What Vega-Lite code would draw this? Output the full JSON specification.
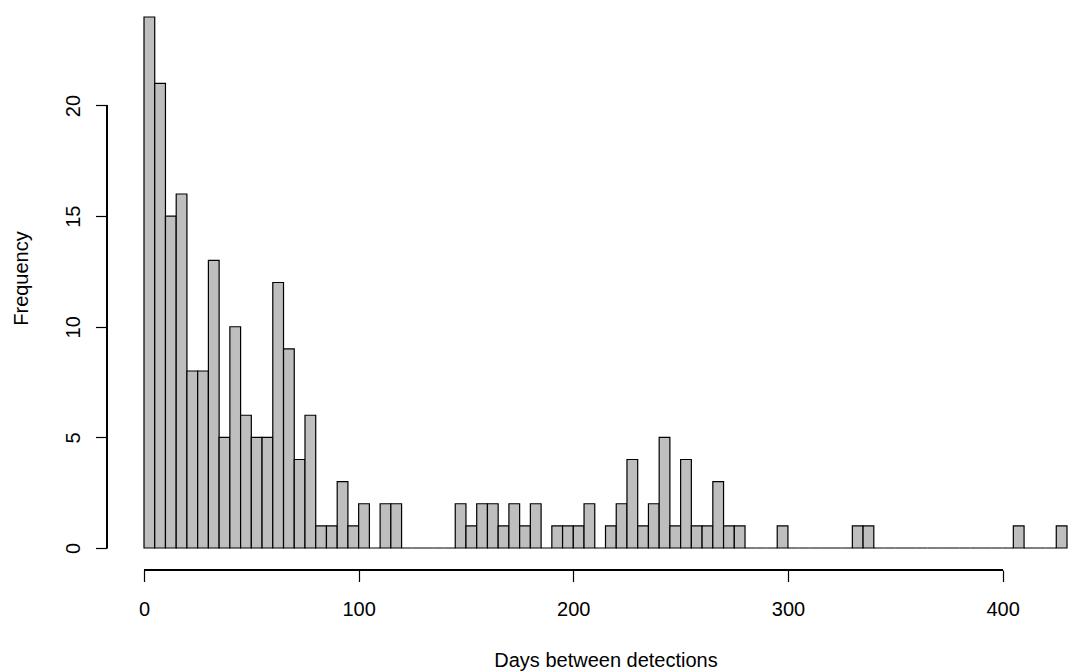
{
  "$schema": "https://vega.github.io/schema/vega-lite/v6.json",
  "width": 923,
  "height": 531,
  "autosize": "none",
  "padding": {"left": 144, "top": 17, "right": 1, "bottom": 124},
  "background": "white",
  "config": {
    "view": {"stroke": null},
    "font": "Liberation Sans"
  },
  "data": {
    "values": [
      {"start": 0, "end": 5, "count": 24},
      {"start": 5, "end": 10, "count": 21},
      {"start": 10, "end": 15, "count": 15},
      {"start": 15, "end": 20, "count": 16},
      {"start": 20, "end": 25, "count": 8},
      {"start": 25, "end": 30, "count": 8},
      {"start": 30, "end": 35, "count": 13},
      {"start": 35, "end": 40, "count": 5},
      {"start": 40, "end": 45, "count": 10},
      {"start": 45, "end": 50, "count": 6},
      {"start": 50, "end": 55, "count": 5},
      {"start": 55, "end": 60, "count": 5},
      {"start": 60, "end": 65, "count": 12},
      {"start": 65, "end": 70, "count": 9},
      {"start": 70, "end": 75, "count": 4},
      {"start": 75, "end": 80, "count": 6},
      {"start": 80, "end": 85, "count": 1},
      {"start": 85, "end": 90, "count": 1},
      {"start": 90, "end": 95, "count": 3},
      {"start": 95, "end": 100, "count": 1},
      {"start": 100, "end": 105, "count": 2},
      {"start": 105, "end": 110, "count": 0},
      {"start": 110, "end": 115, "count": 2},
      {"start": 115, "end": 120, "count": 2},
      {"start": 120, "end": 125, "count": 0},
      {"start": 125, "end": 130, "count": 0},
      {"start": 130, "end": 135, "count": 0},
      {"start": 135, "end": 140, "count": 0},
      {"start": 140, "end": 145, "count": 0},
      {"start": 145, "end": 150, "count": 2},
      {"start": 150, "end": 155, "count": 1},
      {"start": 155, "end": 160, "count": 2},
      {"start": 160, "end": 165, "count": 2},
      {"start": 165, "end": 170, "count": 1},
      {"start": 170, "end": 175, "count": 2},
      {"start": 175, "end": 180, "count": 1},
      {"start": 180, "end": 185, "count": 2},
      {"start": 185, "end": 190, "count": 0},
      {"start": 190, "end": 195, "count": 1},
      {"start": 195, "end": 200, "count": 1},
      {"start": 200, "end": 205, "count": 1},
      {"start": 205, "end": 210, "count": 2},
      {"start": 210, "end": 215, "count": 0},
      {"start": 215, "end": 220, "count": 1},
      {"start": 220, "end": 225, "count": 2},
      {"start": 225, "end": 230, "count": 4},
      {"start": 230, "end": 235, "count": 1},
      {"start": 235, "end": 240, "count": 2},
      {"start": 240, "end": 245, "count": 5},
      {"start": 245, "end": 250, "count": 1},
      {"start": 250, "end": 255, "count": 4},
      {"start": 255, "end": 260, "count": 1},
      {"start": 260, "end": 265, "count": 1},
      {"start": 265, "end": 270, "count": 3},
      {"start": 270, "end": 275, "count": 1},
      {"start": 275, "end": 280, "count": 1},
      {"start": 280, "end": 285, "count": 0},
      {"start": 285, "end": 290, "count": 0},
      {"start": 290, "end": 295, "count": 0},
      {"start": 295, "end": 300, "count": 1},
      {"start": 300, "end": 305, "count": 0},
      {"start": 305, "end": 310, "count": 0},
      {"start": 310, "end": 315, "count": 0},
      {"start": 315, "end": 320, "count": 0},
      {"start": 320, "end": 325, "count": 0},
      {"start": 325, "end": 330, "count": 0},
      {"start": 330, "end": 335, "count": 1},
      {"start": 335, "end": 340, "count": 1},
      {"start": 340, "end": 345, "count": 0},
      {"start": 345, "end": 350, "count": 0},
      {"start": 350, "end": 355, "count": 0},
      {"start": 355, "end": 360, "count": 0},
      {"start": 360, "end": 365, "count": 0},
      {"start": 365, "end": 370, "count": 0},
      {"start": 370, "end": 375, "count": 0},
      {"start": 375, "end": 380, "count": 0},
      {"start": 380, "end": 385, "count": 0},
      {"start": 385, "end": 390, "count": 0},
      {"start": 390, "end": 395, "count": 0},
      {"start": 395, "end": 400, "count": 0},
      {"start": 400, "end": 405, "count": 0},
      {"start": 405, "end": 410, "count": 1},
      {"start": 410, "end": 415, "count": 0},
      {"start": 415, "end": 420, "count": 0},
      {"start": 420, "end": 425, "count": 0},
      {"start": 425, "end": 430, "count": 1}
    ]
  },
  "layer": [
    {
      "mark": {"type": "rect", "fill": "#BEBEBE", "stroke": "black", "strokeWidth": 1.2},
      "encoding": {
        "x": {
          "field": "start",
          "type": "quantitative",
          "scale": {"domain": [0, 430], "nice": false, "zero": false},
          "axis": {
            "values": [0, 100, 200, 300, 400],
            "domain": false,
            "grid": false,
            "offset": 22,
            "tickSize": 11.5,
            "tickWidth": 1.2,
            "tickColor": "black",
            "labelFontSize": 20,
            "labelColor": "black",
            "labelPadding": 34,
            "labelBaseline": "alphabetic",
            "labelFlush": false,
            "labelOverlap": false,
            "title": "Days between detections",
            "titleFontSize": 20,
            "titleFontWeight": "normal",
            "titleColor": "black",
            "titleBaseline": "alphabetic",
            "titleY": 96.5
          }
        },
        "x2": {"field": "end"},
        "y": {
          "field": "count",
          "type": "quantitative",
          "scale": {"domain": [0, 24], "nice": false},
          "axis": {
            "values": [0, 5, 10, 15, 20],
            "domain": false,
            "grid": false,
            "offset": 37,
            "tickSize": 11.5,
            "tickWidth": 1.2,
            "tickColor": "black",
            "labelFontSize": 20,
            "labelColor": "black",
            "labelAngle": -90,
            "labelAlign": "center",
            "labelBaseline": "alphabetic",
            "labelPadding": 16.5,
            "labelFlush": false,
            "labelOverlap": false,
            "title": "Frequency",
            "titleFontSize": 20,
            "titleFontWeight": "normal",
            "titleColor": "black",
            "titleAngle": -90,
            "titleBaseline": "alphabetic",
            "titleX": -80,
            "titleY": 261
          }
        },
        "y2": {"datum": 0}
      }
    },
    {
      "mark": {"type": "rule", "stroke": "black", "strokeWidth": 1.2, "yOffset": 22},
      "encoding": {
        "x": {"datum": 0, "type": "quantitative"},
        "x2": {"datum": 400},
        "y": {"datum": 0, "type": "quantitative"}
      }
    },
    {
      "mark": {"type": "rule", "stroke": "black", "strokeWidth": 1.2, "xOffset": -37},
      "encoding": {
        "x": {"datum": 0, "type": "quantitative"},
        "y": {"datum": 0, "type": "quantitative"},
        "y2": {"datum": 20}
      }
    }
  ]
}
